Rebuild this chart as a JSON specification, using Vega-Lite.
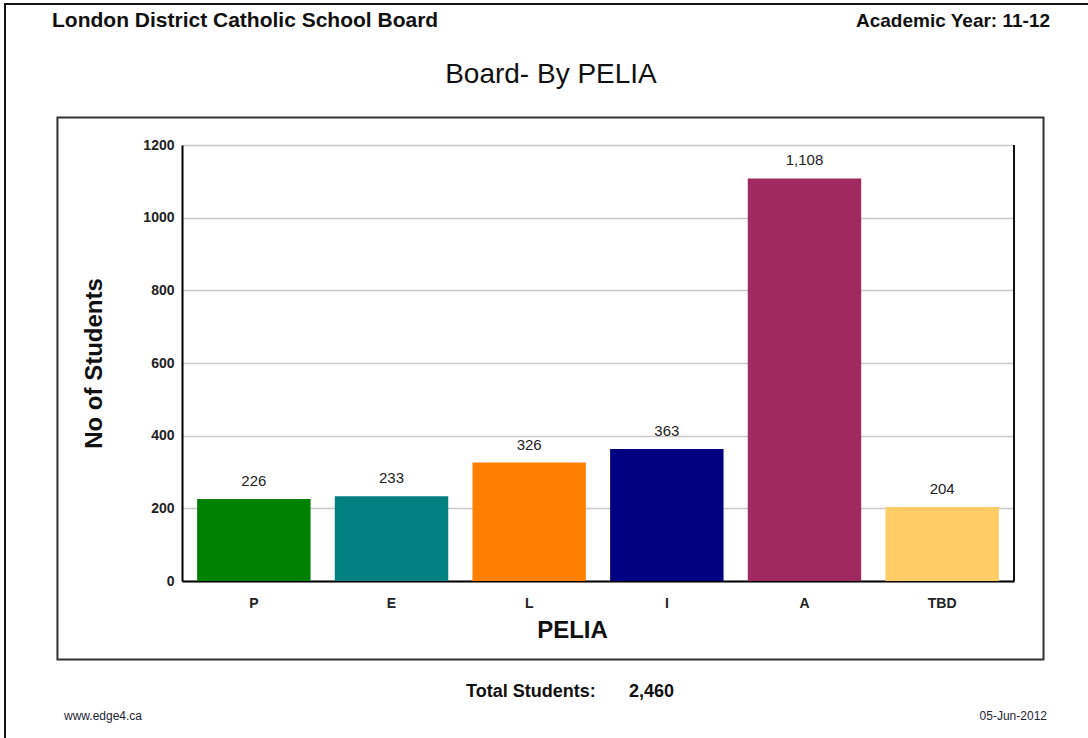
{
  "$schema": "https://vega.github.io/schema/vega-lite/v6.json",
  "width": 832,
  "height": 436,
  "autosize": {"type": "none"},
  "padding": {"left": 182, "top": 145, "right": 74, "bottom": 157},
  "background": "white",
  "config": {"font": "Liberation Sans", "view": {"stroke": null}},
  "datasets": {
    "pelia": [
      {"PELIA": "P", "Students": 226},
      {"PELIA": "E", "Students": 233},
      {"PELIA": "L", "Students": 326},
      {"PELIA": "I", "Students": 363},
      {"PELIA": "A", "Students": 1108},
      {"PELIA": "TBD", "Students": 204}
    ]
  },
  "layer": [
    {
      "data": {"name": "pelia"},
      "encoding": {
        "x": {
          "field": "PELIA", "type": "nominal", "sort": null, "title": "PELIA",
          "scale": {"paddingInner": 0.176, "paddingOuter": 0.11},
          "axis": {
            "labelAngle": 0, "labelFontSize": 14, "labelFontWeight": "bold", "labelColor": "#222",
            "labelPadding": 15, "ticks": false, "domainColor": "#000", "domainWidth": 2,
            "titleFontSize": 24, "titleFontWeight": "bold", "titleColor": "#111", "titlePadding": 8, "titleX": 390
          }
        },
        "y": {
          "field": "Students", "type": "quantitative", "title": "No of Students",
          "scale": {"domain": [0, 1200], "nice": false},
          "axis": {
            "values": [0, 200, 400, 600, 800, 1000, 1200], "format": "d",
            "labelFontSize": 14, "labelFontWeight": "bold", "labelColor": "#222", "labelPadding": 8,
            "ticks": false, "domainColor": "#000", "domainWidth": 2,
            "grid": true, "gridColor": "#C8C8C8", "gridWidth": 1.5,
            "titleFontSize": 24, "titleFontWeight": "bold", "titleColor": "#111", "titlePadding": 36
          }
        }
      },
      "layer": [
        {
          "mark": {"type": "bar"},
          "encoding": {
            "color": {
              "field": "PELIA", "type": "nominal", "legend": null,
              "scale": {"domain": ["P", "E", "L", "I", "A", "TBD"], "range": ["#008000", "#008080", "#FF8000", "#000080", "#A0295F", "#FFCC66"]}
            }
          }
        },
        {
          "mark": {"type": "text", "baseline": "bottom", "dy": -10, "fontSize": 15, "color": "#222"},
          "encoding": {"text": {"field": "Students", "type": "quantitative", "format": ","}}
        }
      ]
    },
    {
      "data": {"values": [{}]},
      "layer": [
        {
          "mark": {"type": "rect", "fill": null, "stroke": "#111", "strokeWidth": 2},
          "encoding": {
            "x": {"datum": 0.46, "type": "quantitative", "scale": {"domain": [0, 100], "range": [-182, 906], "zero": false, "nice": false}, "axis": null},
            "x2": {"datum": 105},
            "y": {"datum": 0.54, "type": "quantitative", "scale": {"domain": [0, 100], "range": [-145, 593], "zero": false, "nice": false}, "axis": null},
            "y2": {"datum": 105}
          }
        },
        {
          "mark": {"type": "rect", "fill": null, "stroke": "#333", "strokeWidth": 2},
          "encoding": {
            "x": {"datum": 5.28, "type": "quantitative", "scale": {"domain": [0, 100], "range": [-182, 906], "zero": false, "nice": false}, "axis": null},
            "x2": {"datum": 95.91},
            "y": {"datum": 15.92, "type": "quantitative", "scale": {"domain": [0, 100], "range": [-145, 593], "zero": false, "nice": false}, "axis": null},
            "y2": {"datum": 89.36}
          }
        },
        {
          "mark": {"type": "rule", "stroke": "#111", "strokeWidth": 2},
          "encoding": {
            "x": {"datum": 93.2, "type": "quantitative", "scale": {"domain": [0, 100], "range": [-182, 906], "zero": false, "nice": false}, "axis": null},
            "y": {"datum": 19.65, "type": "quantitative", "scale": {"domain": [0, 100], "range": [-145, 593], "zero": false, "nice": false}, "axis": null},
            "y2": {"datum": 78.73}
          }
        },
        {
          "mark": {"type": "text", "align": "left", "baseline": "alphabetic", "fontSize": 21, "fontWeight": "bold", "color": "#111", "text": "London District Catholic School Board"},
          "encoding": {
            "x": {"datum": 4.78, "type": "quantitative", "scale": {"domain": [0, 100], "range": [-182, 906], "zero": false, "nice": false}, "axis": null},
            "y": {"datum": 3.66, "type": "quantitative", "scale": {"domain": [0, 100], "range": [-145, 593], "zero": false, "nice": false}, "axis": null}
          }
        },
        {
          "mark": {"type": "text", "align": "right", "baseline": "alphabetic", "fontSize": 19, "fontWeight": "bold", "color": "#111", "text": "Academic Year:  11-12"},
          "encoding": {
            "x": {"datum": 96.51, "type": "quantitative", "scale": {"domain": [0, 100], "range": [-182, 906], "zero": false, "nice": false}, "axis": null},
            "y": {"datum": 3.6, "type": "quantitative", "scale": {"domain": [0, 100], "range": [-145, 593], "zero": false, "nice": false}, "axis": null}
          }
        },
        {
          "mark": {"type": "text", "align": "center", "baseline": "alphabetic", "fontSize": 28, "color": "#111", "text": "Board- By PELIA"},
          "encoding": {
            "x": {"datum": 50.64, "type": "quantitative", "scale": {"domain": [0, 100], "range": [-182, 906], "zero": false, "nice": false}, "axis": null},
            "y": {"datum": 11.25, "type": "quantitative", "scale": {"domain": [0, 100], "range": [-145, 593], "zero": false, "nice": false}, "axis": null}
          }
        },
        {
          "mark": {"type": "text", "align": "left", "baseline": "alphabetic", "fontSize": 18, "fontWeight": "bold", "color": "#111", "text": "Total Students:"},
          "encoding": {
            "x": {"datum": 42.83, "type": "quantitative", "scale": {"domain": [0, 100], "range": [-182, 906], "zero": false, "nice": false}, "axis": null},
            "y": {"datum": 94.44, "type": "quantitative", "scale": {"domain": [0, 100], "range": [-145, 593], "zero": false, "nice": false}, "axis": null}
          }
        },
        {
          "mark": {"type": "text", "align": "left", "baseline": "alphabetic", "fontSize": 18, "fontWeight": "bold", "color": "#111", "text": "2,460"},
          "encoding": {
            "x": {"datum": 57.81, "type": "quantitative", "scale": {"domain": [0, 100], "range": [-182, 906], "zero": false, "nice": false}, "axis": null},
            "y": {"datum": 94.44, "type": "quantitative", "scale": {"domain": [0, 100], "range": [-145, 593], "zero": false, "nice": false}, "axis": null}
          }
        },
        {
          "mark": {"type": "text", "align": "left", "baseline": "alphabetic", "fontSize": 12, "color": "#223", "text": "www.edge4.ca"},
          "encoding": {
            "x": {"datum": 5.88, "type": "quantitative", "scale": {"domain": [0, 100], "range": [-182, 906], "zero": false, "nice": false}, "axis": null},
            "y": {"datum": 97.56, "type": "quantitative", "scale": {"domain": [0, 100], "range": [-145, 593], "zero": false, "nice": false}, "axis": null}
          }
        },
        {
          "mark": {"type": "text", "align": "right", "baseline": "alphabetic", "fontSize": 12, "color": "#223", "text": "05-Jun-2012"},
          "encoding": {
            "x": {"datum": 96.23, "type": "quantitative", "scale": {"domain": [0, 100], "range": [-182, 906], "zero": false, "nice": false}, "axis": null},
            "y": {"datum": 97.56, "type": "quantitative", "scale": {"domain": [0, 100], "range": [-145, 593], "zero": false, "nice": false}, "axis": null}
          }
        }
      ]
    }
  ],
  "resolve": {"scale": {"x": "independent", "y": "independent", "color": "independent"}, "axis": {"x": "independent", "y": "independent"}}
}
